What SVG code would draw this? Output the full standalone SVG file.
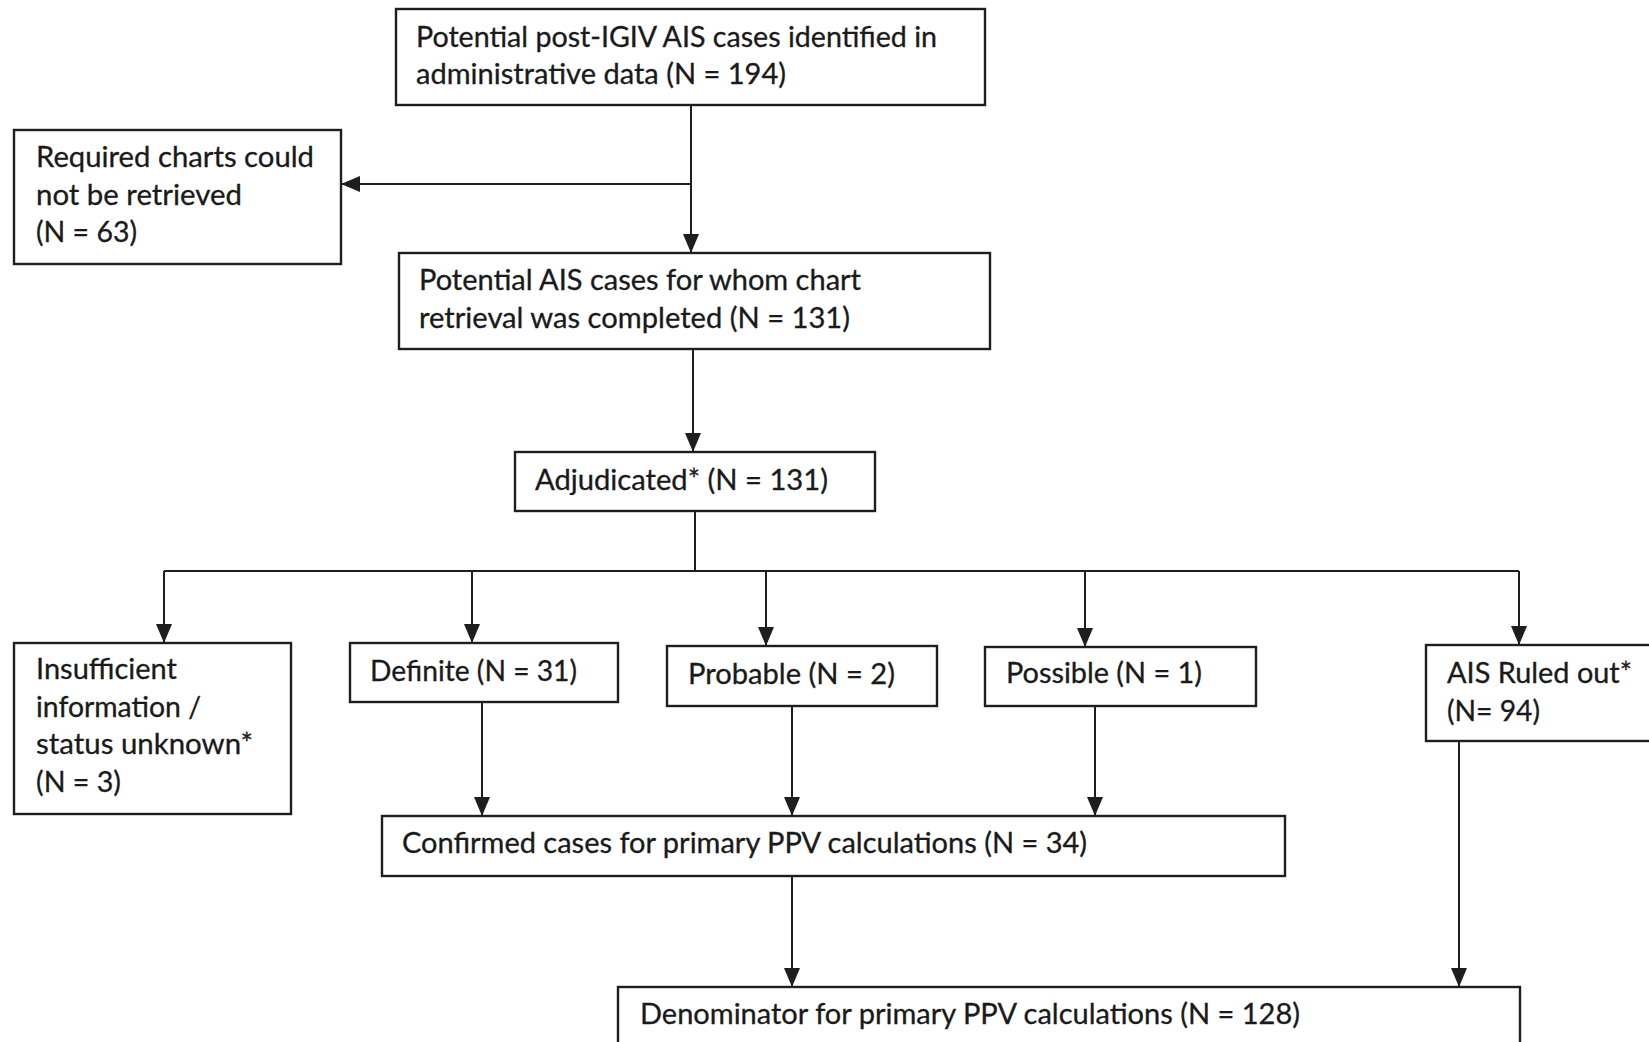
<svg xmlns="http://www.w3.org/2000/svg" width="1649" height="1042" viewBox="0 0 1649 1042">
  <style>
    .box { fill: #ffffff; stroke: #1e1e1e; stroke-width: 2.4; }
    .lbl { font-family: Lato, "Open Sans", "Liberation Sans", sans-serif; font-size: 28px; fill: #1a1a1a; stroke: #1a1a1a; stroke-width: 0.3; }
    .conn { fill: none; stroke: #1e1e1e; stroke-width: 2; }
  </style>
  <defs>
    <marker id="arrow" markerUnits="userSpaceOnUse" markerWidth="19" markerHeight="16" refX="19" refY="8" orient="auto">
      <path d="M0,0 L19,8 L0,16 z" fill="#1e1e1e"/>
    </marker>
  </defs>
  <rect x="0" y="0" width="1649" height="1042" fill="#ffffff"/>

  <!-- connectors -->
  <g id="connectors">
    <path class="conn" d="M691 105 V253" marker-end="url(#arrow)"/>
    <path class="conn" d="M691 184 H341" marker-end="url(#arrow)"/>
    <path class="conn" d="M693 349 V452" marker-end="url(#arrow)"/>
    <path class="conn" d="M695 511 V571 M164 571 H1519"/>
    <path class="conn" d="M164 571 V643" marker-end="url(#arrow)"/>
    <path class="conn" d="M472 571 V643" marker-end="url(#arrow)"/>
    <path class="conn" d="M766 571 V646" marker-end="url(#arrow)"/>
    <path class="conn" d="M1085 571 V647" marker-end="url(#arrow)"/>
    <path class="conn" d="M1519 571 V645" marker-end="url(#arrow)"/>
    <path class="conn" d="M482 702 V816" marker-end="url(#arrow)"/>
    <path class="conn" d="M792 706 V816" marker-end="url(#arrow)"/>
    <path class="conn" d="M1095 706 V816" marker-end="url(#arrow)"/>
    <path class="conn" d="M792 876 V987" marker-end="url(#arrow)"/>
    <path class="conn" d="M1459 741 V987" marker-end="url(#arrow)"/>
  </g>

  <g id="identified">
    <rect class="box" x="396" y="9" width="589" height="96"/>
    <text class="lbl" x="416" y="47" textLength="521" lengthAdjust="spacingAndGlyphs">Potential post-IGIV AIS cases identified in</text>
    <text class="lbl" x="416" y="84" textLength="370" lengthAdjust="spacingAndGlyphs">administrative data (N = 194)</text>
  </g>

  <g id="not-retrieved">
    <rect class="box" x="14" y="130" width="327" height="134"/>
    <text class="lbl" x="36" y="167" textLength="278" lengthAdjust="spacingAndGlyphs">Required charts could</text>
    <text class="lbl" x="36" y="205" textLength="206" lengthAdjust="spacingAndGlyphs">not be retrieved</text>
    <text class="lbl" x="36" y="242" textLength="101" lengthAdjust="spacingAndGlyphs">(N = 63)</text>
  </g>

  <g id="retrieved">
    <rect class="box" x="399" y="253" width="591" height="96"/>
    <text class="lbl" x="419" y="290" textLength="442" lengthAdjust="spacingAndGlyphs">Potential AIS cases for whom chart</text>
    <text class="lbl" x="419" y="328" textLength="431" lengthAdjust="spacingAndGlyphs">retrieval was completed (N = 131)</text>
  </g>

  <g id="adjudicated">
    <rect class="box" x="515" y="452" width="360" height="59"/>
    <text class="lbl" x="535" y="490" textLength="293" lengthAdjust="spacingAndGlyphs">Adjudicated* (N = 131)</text>
  </g>

  <g id="insufficient">
    <rect class="box" x="14" y="643" width="277" height="171"/>
    <text class="lbl" x="36" y="679" textLength="141" lengthAdjust="spacingAndGlyphs">Insufficient</text>
    <text class="lbl" x="36" y="717" textLength="165" lengthAdjust="spacingAndGlyphs">information /</text>
    <text class="lbl" x="36" y="754" textLength="217" lengthAdjust="spacingAndGlyphs">status unknown*</text>
    <text class="lbl" x="36" y="792" textLength="85" lengthAdjust="spacingAndGlyphs">(N = 3)</text>
  </g>

  <g id="definite">
    <rect class="box" x="350" y="643" width="268" height="59"/>
    <text class="lbl" x="370" y="681" textLength="207" lengthAdjust="spacingAndGlyphs">Definite (N = 31)</text>
  </g>

  <g id="probable">
    <rect class="box" x="667" y="646" width="270" height="60"/>
    <text class="lbl" x="688" y="684" textLength="207" lengthAdjust="spacingAndGlyphs">Probable (N = 2)</text>
  </g>

  <g id="possible">
    <rect class="box" x="985" y="647" width="271" height="59"/>
    <text class="lbl" x="1006" y="683" textLength="196" lengthAdjust="spacingAndGlyphs">Possible (N = 1)</text>
  </g>

  <g id="ruled-out">
    <rect class="box" x="1426" y="645" width="240" height="96"/>
    <text class="lbl" x="1447" y="683" textLength="185" lengthAdjust="spacingAndGlyphs">AIS Ruled out*</text>
    <text class="lbl" x="1447" y="721" textLength="93" lengthAdjust="spacingAndGlyphs">(N= 94)</text>
  </g>

  <g id="confirmed">
    <rect class="box" x="382" y="816" width="903" height="60"/>
    <text class="lbl" x="402" y="853" textLength="685" lengthAdjust="spacingAndGlyphs">Confirmed cases for primary PPV calculations (N = 34)</text>
  </g>

  <g id="denominator">
    <rect class="box" x="618" y="987" width="902" height="80"/>
    <text class="lbl" x="640" y="1024" textLength="660" lengthAdjust="spacingAndGlyphs">Denominator for primary PPV calculations (N = 128)</text>
  </g>
</svg>
